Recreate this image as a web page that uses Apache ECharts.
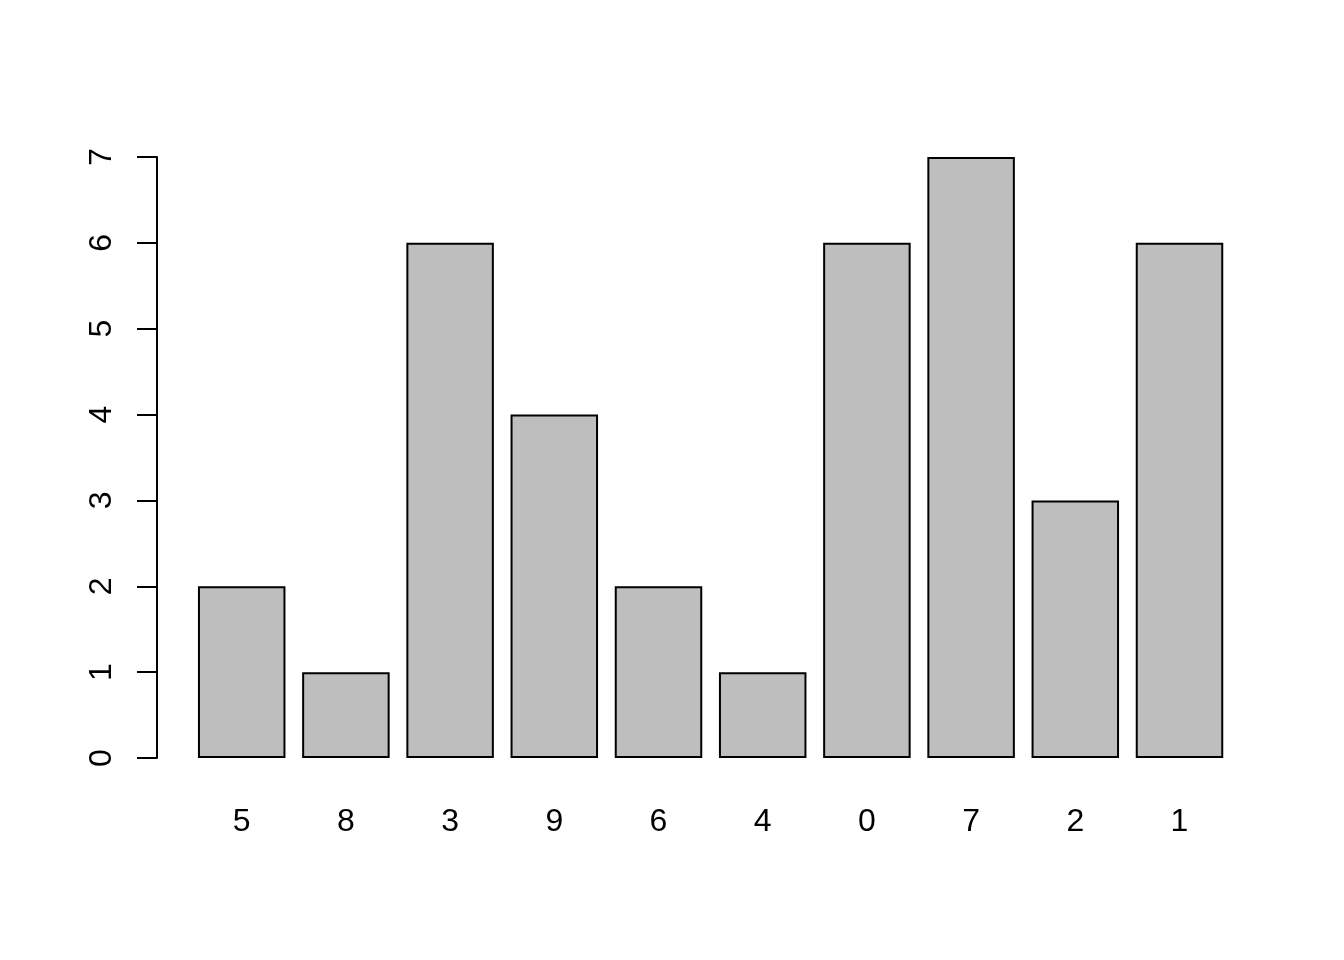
<!DOCTYPE html>
<html>
<head>
<meta charset="utf-8">
<script src="https://cdn.jsdelivr.net/npm/echarts@6/dist/echarts.min.js"></script>
<style>html,body{margin:0;padding:0;background:#fff}#c{width:1344px;height:960px}</style>
</head>
<body>
<div id="c"></div>
<script>
const categories = ['5','8','3','9','6','4','0','7','2','1'];
const values = [2,1,6,4,2,1,6,7,3,6];
const yTicks = [0,1,2,3,4,5,6,7];

const chart = echarts.init(document.getElementById('c'), null, {renderer:'canvas'});
chart.setOption({
  animation:false,
  backgroundColor:'#ffffff',
  grid:{left:189.6, width:1042, top:157, height:601},
  xAxis:{
    type:'category', data:categories,
    axisLine:{show:false}, axisTick:{show:false},
    axisLabel:{color:'#000', fontSize:32, fontFamily:'Liberation Sans', margin:48}
  },
  yAxis:{
    type:'value', min:yTicks[0], max:yTicks[yTicks.length-1], interval:1,
    offset:32.6,
    splitLine:{show:false},
    axisLine:{show:true, lineStyle:{color:'#000', width:2}},
    axisTick:{show:true, length:20, lineStyle:{color:'#000', width:2}},
    axisLabel:{color:'#000', fontSize:32, fontFamily:'Liberation Sans', rotate:90, margin:39}
  },
  series:[{
    type:'bar', data:values, barWidth:87.5,
    itemStyle:{color:'#bebebe', borderColor:'#000', borderWidth:2}
  }]
});
</script>
</body>
</html>
